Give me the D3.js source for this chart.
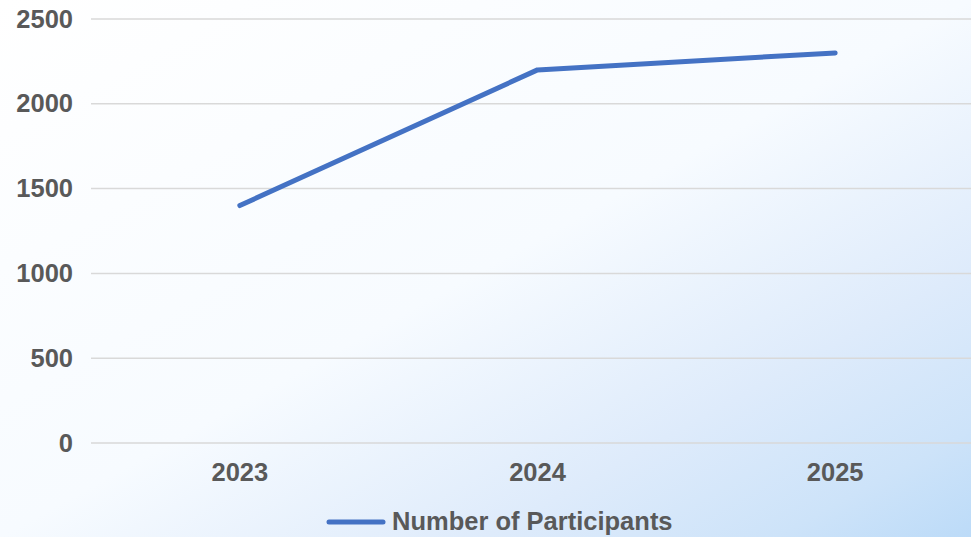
<!DOCTYPE html>
<html>
<head>
<meta charset="utf-8">
<script src="https://cdn.jsdelivr.net/npm/d3@7"></script>
<style>
  html, body { margin: 0; padding: 0; overflow: hidden; }
  svg { display: block; }
</style>
</head>
<body>
<svg id="chart" width="971" height="537"></svg>
<script>
// data
var years = ["2023", "2024", "2025"];
var participants = [1400, 2200, 2300];
var yTicks = [0, 500, 1000, 1500, 2000, 2500];
var seriesName = "Number of Participants";

var width = 971, height = 537;
var margin = {top: 19, right: -13, bottom: 94, left: 91};
var textColor = "#595959";
var lineColor = "#4472C4";
var fontFamily = "'Liberation Sans', Arial, sans-serif";
var fontSize = 25.5;

var svg = d3.select("#chart");

// background gradient, white top-left to light blue bottom-right
var defs = svg.append("defs");
var grad = defs.append("linearGradient")
    .attr("id", "bg")
    .attr("x1", "0").attr("y1", "0")
    .attr("x2", "1").attr("y2", "1");
grad.append("stop").attr("offset", "0").attr("stop-color", "#ffffff");
grad.append("stop").attr("offset", "0.5").attr("stop-color", "#f7fbff");
grad.append("stop").attr("offset", "0.75").attr("stop-color", "#deebfb");
grad.append("stop").attr("offset", "0.9").attr("stop-color", "#cde3f9");
grad.append("stop").attr("offset", "1").attr("stop-color", "#bcdbf8");

svg.append("rect")
    .attr("width", width)
    .attr("height", height)
    .attr("fill", "url(#bg)");

var x = d3.scaleBand()
    .domain(years)
    .range([margin.left, width - margin.right]);

var y = d3.scaleLinear()
    .domain([0, 2500])
    .range([height - margin.bottom, margin.top]);

// gridlines
svg.append("g")
    .selectAll("line")
    .data(yTicks)
    .enter()
    .append("line")
    .attr("x1", margin.left)
    .attr("x2", width - margin.right)
    .attr("y1", function(d){ return y(d); })
    .attr("y2", function(d){ return y(d); })
    .attr("stroke", "#d9d9d9")
    .attr("stroke-width", 1.5);

// y axis labels
var yAxis = d3.axisLeft(y)
    .tickValues(yTicks)
    .tickFormat(d3.format("d"))
    .tickSize(0)
    .tickPadding(18);
var gy = svg.append("g")
    .attr("transform", "translate(" + margin.left + ",0)")
    .call(yAxis);
gy.select(".domain").remove();
gy.selectAll("text")
    .attr("fill", textColor)
    .attr("font-size", fontSize)
    .attr("font-weight", "bold")
    .attr("font-family", fontFamily);

// x axis labels
var xAxis = d3.axisBottom(x)
    .tickSize(0)
    .tickPadding(20);
var gx = svg.append("g")
    .attr("transform", "translate(0," + y(0) + ")")
    .call(xAxis);
gx.select(".domain").remove();
gx.selectAll("text")
    .attr("fill", textColor)
    .attr("font-size", fontSize)
    .attr("font-weight", "bold")
    .attr("font-family", fontFamily);

// the line
var line = d3.line()
    .x(function(d, i){ return x(years[i]) + x.bandwidth() / 2; })
    .y(function(d){ return y(d); });

svg.append("path")
    .datum(participants)
    .attr("d", line)
    .attr("fill", "none")
    .attr("stroke", lineColor)
    .attr("stroke-width", 5)
    .attr("stroke-linecap", "round")
    .attr("stroke-linejoin", "round");

// legend
var legend = svg.append("g").attr("transform", "translate(329,522)");
legend.append("line")
    .attr("x1", 0).attr("x2", 54)
    .attr("y1", 0).attr("y2", 0)
    .attr("stroke", lineColor)
    .attr("stroke-width", 5)
    .attr("stroke-linecap", "round");
legend.append("text")
    .attr("x", 63)
    .attr("y", 8)
    .attr("fill", textColor)
    .attr("font-size", fontSize)
    .attr("font-weight", "bold")
    .attr("font-family", fontFamily)
    .text(seriesName);
</script>
</body>
</html>
